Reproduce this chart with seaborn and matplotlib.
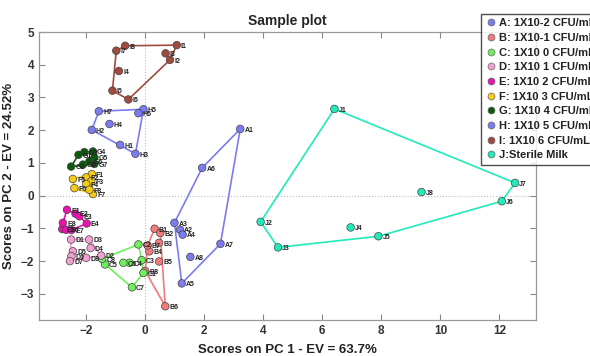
import numpy as np
import pandas as pd
import matplotlib
matplotlib.use('Agg')
import matplotlib.pyplot as plt
from matplotlib.lines import Line2D
import seaborn as sns

# Group labels shown in the legend
GROUPS = ['A', 'B', 'C', 'D', 'E', 'F', 'G', 'H', 'I', 'J']
LEGEND_LABELS = [
    'A: 1X10-2 CFU/mL', 'B: 1X10-1 CFU/mL', 'C: 1X10 0 CFU/mL', 'D: 1X10 1 CFU/mL',
    'E: 1X10 2 CFU/mL', 'F: 1X10 3 CFU/mL', 'G: 1X10 4 CFU/mL', 'H: 1X10 5 CFU/mL',
    'I: 1X10 6 CFU/mL', 'J:Sterile Milk',
]
COLORS = ['#7b7bf2', '#f27a7a', '#6ef05e', '#f2a0d2', '#ee10b0',
          '#f7cc10', '#0a5a0a', '#7b7bf2', '#a04a3e', '#20ebbb']

# PC scores (sample number -> (PC1, PC2))
A_pc1 = [3.22, 1.18, 0.99, 1.27, 1.24, 1.93, 2.55, 1.53]
A_pc2 = [2.04, -1.04, -0.83, -1.19, -2.68, 0.85, -1.47, -1.87]
B_pc1 = [0.32, 0.51, 0.47, 0.14, 0.47, 0.68, 0.08, 0.0]
B_pc2 = [-1.01, -1.14, -1.44, -1.70, -2.01, -3.38, -1.52, -2.30]
C_pc1 = [-0.06, -0.23, -0.12, -0.53, -1.36, -0.74, -0.45, -1.46]
C_pc2 = [-2.36, -1.49, -1.97, -2.05, -2.10, -2.05, -2.80, -1.93]
D_pc1 = [-2.51, -1.49, -1.90, -1.85, -2.45, -2.50, -2.55, -2.00]
D_pc2 = [-1.34, -1.83, -1.34, -1.60, -1.70, -1.85, -2.00, -1.90]
E_pc1 = [-2.65, -2.36, -2.23, -1.98, -2.81, -2.68, -2.50, -2.79]
E_pc2 = [-0.43, -0.55, -0.63, -0.85, -1.02, -1.04, -1.05, -0.83]
F_pc1 = [-1.81, -2.00, -1.83, -2.00, -2.45, -2.40, -1.77, -1.89]
F_pc2 = [0.66, 0.56, 0.44, 0.36, 0.51, 0.23, 0.05, 0.18]
G_pc1 = [-2.26, -2.51, -2.06, -1.77, -1.72, -1.89, -1.72, -2.11]
G_pc2 = [1.25, 0.89, 1.33, 1.35, 1.17, 1.05, 0.97, 0.95]
H_pc1 = [-0.85, -1.81, -0.33, -1.21, -0.06, -0.23, -1.57]
H_pc2 = [1.55, 2.01, 1.28, 2.19, 2.64, 2.52, 2.58]
I_pc1 = [1.07, 0.84, 0.69, -0.89, -1.11, -0.57, -0.98, -0.68]
I_pc2 = [4.60, 4.15, 4.35, 3.81, 3.21, 2.94, 4.43, 4.58]
J_pc1 = [6.41, 3.91, 4.50, 6.96, 7.90, 12.08, 12.53, 9.36]
J_pc2 = [2.65, -0.80, -1.58, -0.97, -1.24, -0.17, 0.39, 0.11]

X_TICKS = [-2, 0, 2, 4, 6, 8, 10, 12]
Y_TICKS = [-3, -2, -1, 0, 1, 2, 3, 4, 5]

PC1 = [A_pc1, B_pc1, C_pc1, D_pc1, E_pc1, F_pc1, G_pc1, H_pc1, I_pc1, J_pc1]
PC2 = [A_pc2, B_pc2, C_pc2, D_pc2, E_pc2, F_pc2, G_pc2, H_pc2, I_pc2, J_pc2]


def convex_hull(points):
    """Monotone chain convex hull, returns closed polygon."""
    pts = sorted(set(points))
    if len(pts) < 3:
        return pts

    def cross(o, a, b):
        return (a[0] - o[0]) * (b[1] - o[1]) - (a[1] - o[1]) * (b[0] - o[0])

    lower, upper = [], []
    for p in pts:
        while len(lower) >= 2 and cross(lower[-2], lower[-1], p) <= 0:
            lower.pop()
        lower.append(p)
    for p in reversed(pts):
        while len(upper) >= 2 and cross(upper[-2], upper[-1], p) <= 0:
            upper.pop()
        upper.append(p)
    hull = lower[:-1] + upper[:-1]
    return hull + [hull[0]]


rows = []
for g, xs, ys in zip(GROUPS, PC1, PC2):
    for i, (x, y) in enumerate(zip(xs, ys)):
        rows.append({'group': g, 'name': f'{g}{i + 1}', 'pc1': x, 'pc2': y})
df = pd.DataFrame(rows)

sns.set_style('ticks')
plt.rcParams['font.family'] = ['Liberation Sans', 'DejaVu Sans']
plt.rcParams['font.weight'] = 'bold'

fig = plt.figure(figsize=(5.9, 3.56), dpi=100)
ax = fig.add_axes([0.066, 0.101, 0.843, 0.809])

# zero lines
ax.axhline(0, color='#bbbbbb', linestyle=':', linewidth=0.8, zorder=0)
ax.axvline(0, color='#bbbbbb', linestyle=':', linewidth=0.8, zorder=0)

palette = dict(zip(GROUPS, COLORS))

# hull outlines
for g in GROUPS:
    sub = df[df['group'] == g]
    hull = convex_hull(list(zip(sub['pc1'], sub['pc2'])))
    hx, hy = zip(*hull)
    ax.plot(hx, hy, color=palette[g], linewidth=1.2, zorder=1)

sns.scatterplot(data=df, x='pc1', y='pc2', hue='group', palette=palette,
                s=30, edgecolor='#444444', linewidth=0.5, legend=False,
                ax=ax, zorder=3)

for _, r in df.iterrows():
    ax.annotate(r['name'], (r['pc1'], r['pc2']), xytext=(3, -2),
                textcoords='offset points', fontsize=5, fontweight='bold',
                color='#222222', zorder=4)

ax.set_xlim(-3.6, 13.25)
ax.set_ylim(-3.8, 5)
ax.set_xticks(X_TICKS)
ax.set_yticks(Y_TICKS)
ax.tick_params(direction='in', length=4, width=0.8, color='#888888',
               labelsize=8.5, labelcolor='#333333', top=True, right=True)
for lbl in ax.get_xticklabels() + ax.get_yticklabels():
    lbl.set_fontweight('bold')
for s in ax.spines.values():
    s.set_color('#999999')
    s.set_linewidth(0.9)

ax.set_title('Sample plot', fontsize=10, fontweight='bold', pad=5)
ax.set_xlabel('Scores on PC 1 - EV = 63.7%', fontsize=9.5, fontweight='bold',
              color='#222222', labelpad=5)
ax.set_ylabel('Scores on PC 2 - EV = 24.52%', fontsize=9.5, fontweight='bold',
              color='#222222', labelpad=4)

handles = [Line2D([0], [0], marker='o', linestyle='none', markersize=5,
                  markerfacecolor=c, markeredgecolor='#666666',
                  markeredgewidth=0.5) for c in COLORS]
leg = fig.legend(handles, LEGEND_LABELS, loc='upper left',
                 bbox_to_anchor=(0.805, 0.977), frameon=True, fancybox=False,
                 fontsize=8, handletextpad=0.3, borderpad=0.4,
                 labelspacing=0.42, handlelength=1.0)
leg.get_frame().set_edgecolor('#222222')
leg.get_frame().set_linewidth(1.0)
for t in leg.get_texts():
    t.set_fontweight('bold')
    t.set_color('#222222')

fig.savefig('out.png', dpi=100)
plt.close(fig)
